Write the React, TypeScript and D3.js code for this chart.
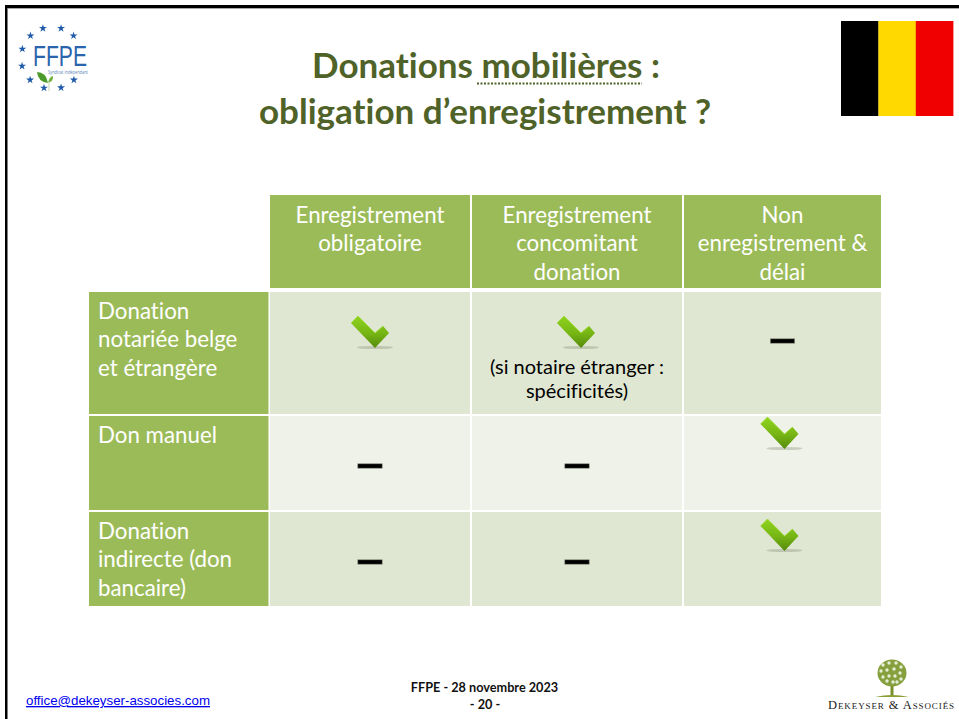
import * as d3 from 'd3'

// Table content
const columns = ['Label', 'Obligatoire', 'Concomitant', 'Delai']
const rows = ['Head', 'Notariee', 'Manuel', 'Indirecte']
const columnHeaders = [
  ['Enregistrement', 'obligatoire'],
  ['Enregistrement', 'concomitant', 'donation'],
  ['Non', 'enregistrement &', 'délai'],
]
const rowHeaders = [
  ['Donation', 'notariée belge', 'et étrangère'],
  ['Don manuel'],
  ['Donation', 'indirecte (don', 'bancaire)'],
]
const cellMarks = [
  ['check', 'check', 'dash'],
  ['dash', 'dash', 'check'],
  ['dash', 'dash', 'check'],
]
const flagColors = ['#000000', '#ffd900', '#f00000']
const starAngles = [-107, -73, -134, -46, -163, 165, 135, 45, 105, 73]
// light speckles in the tree crown of the footer logo
const crownSpots = [
  [-9, -8], [-3, -10], [4, -10], [9, -6], [-11, -2], [-5, -3], [2, -4], [8, 0],
  [-9, 4], [-3, 3], [3, 3], [9, 6], [-5, 8], [1, 9], [5, 9],
]

const colLeft = d3.scaleOrdinal<string, number>().domain(columns).range([89, 270, 472, 684])
const colRight = d3.scaleOrdinal<string, number>().domain(columns).range([268.5, 470, 682, 881])
const rowTop = d3.scaleOrdinal<string, number>().domain(rows).range([195, 292, 416, 512])
const rowBottom = d3.scaleOrdinal<string, number>().domain(rows).range([288, 414, 510, 606])

const FONT = 'Lato, Carlito, sans-serif'
const star = d3.symbol().type(d3.symbolStar).size(20)

// the check sits off-centre in the last column, higher in the rows below the first
const checkShift = [0, -1, -3]
const checkOffset = [40, 17, 23]
const dashOffset = [49, 50, 50]

function Check({ cx, cy }: { cx: number; cy: number }) {
  return (
    <g transform={`translate(${cx},${cy})`}>
      <ellipse cx={5} cy={15.5} rx={18} ry={1.6} fill="#8d9580" opacity={0.4} />
      <path d="M-19,-9 L-12,-16 L5,1 L13,-6 L19,1 L5,16 Z" fill="url(#checkFill)" />
      <path d="M-19,-9 L-12,-16 L5,1 L13,-6" fill="none" stroke="#a5dc3c" strokeWidth={0.8} />
    </g>
  )
}

function Dash({ cx, cy }: { cx: number; cy: number }) {
  return <rect x={cx - 12.2} y={cy - 2.2} width={24.4} height={4.4} fill="#000" stroke="#8a8f80" strokeWidth={0.6} />
}

export default function App() {
  return (
    <svg
      width={959}
      height={719}
      viewBox="0 0 959 719"
      style={{ position: 'absolute', left: 0, top: 0, display: 'block', background: '#fff', fontVariantLigatures: 'none' }}
    >
      <defs>
        <linearGradient id="checkFill" x1="0" y1="0" x2="0" y2="1">
          <stop offset="0" stopColor="#8fd41e" />
          <stop offset="0.55" stopColor="#76b514" />
          <stop offset="1" stopColor="#558a0c" />
        </linearGradient>
      </defs>

      {/* slide frame */}
      <rect x={5} y={5} width={954} height={3} fill="#000" />
      <rect x={8} y={8} width={951} height={1} fill="#aaa" />
      <rect x={5} y={5} width={2.5} height={714} fill="#000" />

      {/* FFPE logo */}
      <g transform="translate(52,58)">
        {starAngles.map((a) => (
          <path
            key={a}
            d={star() ?? ''}
            fill="#1f5ba8"
            transform={`translate(${31 * Math.cos((a * Math.PI) / 180)},${31 * Math.sin((a * Math.PI) / 180)})`}
          />
        ))}
      </g>
      <text x={33} y={66} fontFamily="Liberation Sans" fontSize={29} fill="#2a64ad" textLength={54} lengthAdjust="spacingAndGlyphs">
        FFPE
      </text>
      <text x={48} y={74} fontFamily="Open Sans" fontSize={4.5} fill="#5b84b8" textLength={40} lengthAdjust="spacingAndGlyphs">
        Syndicat indépendant
      </text>
      <path d="M48,83 Q38,82 37,72 Q46,72 48,83 Z" fill="#4c9a2a" />
      <path d="M48,83 Q49,77 53,76 Q54,81 48,83 Z" fill="#6fb33a" />
      <rect x={48.3} y={82} width={1.2} height={9} fill="#cfe0bd" />

      {/* Belgian flag */}
      {flagColors.map((c, i) => (
        <rect key={c} x={841 + i * 37.4} y={21} width={37.6} height={95} fill={c} />
      ))}

      {/* title */}
      <g fontFamily={FONT} fontWeight={700} fontSize={35} fill="#4f6228" textAnchor="middle">
        <text x={486} y={78}>Donations mobilières :</text>
        <text x={485} y={124}>obligation d’enregistrement ?</text>
      </g>
      <line x1={477} x2={642} y1={83.5} y2={83.5} stroke="#4f6228" strokeWidth={2} strokeDasharray="2 1.5" />

      {/* column headers */}
      {columnHeaders.map((lines, i) => {
        const col = columns[i + 1]
        const x0 = colLeft(col)
        const x1 = colRight(col)
        return (
          <g key={col}>
            <rect x={x0} y={rowTop('Head')} width={x1 - x0} height={rowBottom('Head') - rowTop('Head')} fill="#9bbb59" />
            {lines.map((t, j) => (
              <text key={j} x={(x0 + x1) / 2} y={222.5 + j * 28.5} textAnchor="middle" fontFamily={FONT} fontSize={22.3} fill="#fff">
                {t}
              </text>
            ))}
          </g>
        )
      })}

      {/* rows */}
      {rowHeaders.map((lines, r) => {
        const row = rows[r + 1]
        const y0 = rowTop(row)
        const y1 = rowBottom(row)
        return (
          <g key={row}>
            <rect x={colLeft('Label')} y={y0} width={colRight('Label') - colLeft('Label')} height={y1 - y0} fill="#9bbb59" />
            {lines.map((t, j) => (
              <text key={j} x={98} y={y0 + 26.5 + j * 28.5} fontFamily={FONT} fontSize={22.3} fill="#fff">
                {t}
              </text>
            ))}
            {cellMarks[r].map((mark, c) => {
              const x0 = colLeft(columns[c + 1])
              const x1 = colRight(columns[c + 1])
              const cx = (x0 + x1) / 2
              return (
                <g key={c}>
                  <rect x={x0} y={y0} width={x1 - x0} height={y1 - y0} fill={r === 1 ? '#eff2e9' : '#dfe7d2'} />
                  {mark === 'check' ? (
                    <Check cx={cx + checkShift[c]} cy={y0 + checkOffset[r]} />
                  ) : (
                    <Dash cx={cx} cy={y0 + dashOffset[r]} />
                  )}
                </g>
              )
            })}
          </g>
        )
      })}
      <g fontFamily={FONT} fontSize={20} fill="#000" textAnchor="middle">
        <text x={577} y={374}>(si notaire étranger :</text>
        <text x={577} y={398}>spécificités)</text>
      </g>

      {/* footer */}
      <text x={26} y={705} fontFamily="Liberation Sans" fontSize={13.3} fill="#0000ee" textDecoration="underline">
        office@dekeyser-associes.com
      </text>
      <g fontFamily={FONT} fontWeight={700} fontSize={12.7} fill="#111" textAnchor="middle">
        <text x={484.5} y={692}>FFPE - 28 novembre 2023</text>
        <text x={485} y={709}>- 20 -</text>
      </g>

      {/* Dekeyser logo */}
      <g transform="translate(892,673)">
        <rect x={-1.5} y={12} width={3} height={11} fill="#7a8f2a" />
        <path d="M-17,24 Q0,20 17,24 Z" fill="#8aa035" />
        <ellipse cx={0} cy={0} rx={14.5} ry={13.5} fill="#86a03e" />
        {crownSpots.map(([dx, dy], i) => (
          <circle key={i} cx={dx} cy={dy} r={1.7} fill="#e6edd6" />
        ))}
      </g>
      <text x={891.5} y={709} textAnchor="middle" fontFamily="Liberation Serif" fontSize={12.5} letterSpacing={0.9} fill="#222" style={{ fontVariant: 'small-caps' }}>
        Dekeyser &amp; Associés
      </text>
    </svg>
  )
}
